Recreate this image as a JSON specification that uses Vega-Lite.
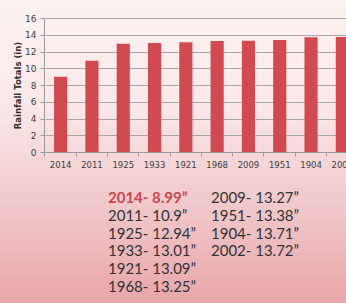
{
  "$schema": "https://vega.github.io/schema/vega-lite/v6.json",
  "width": 346,
  "height": 303,
  "autosize": {"type": "none"},
  "padding": 0,
  "background": "#f3d3d4",
  "config": {
    "view": {
      "stroke": null,
      "fill": {"gradient": "linear", "x1": 0, "y1": 0, "x2": 0, "y2": 1,
        "stops": [
          {"offset": 0, "color": "#fdf2f1"},
          {"offset": 0.35, "color": "#fbe8e8"},
          {"offset": 0.6, "color": "#f4d0d1"},
          {"offset": 1, "color": "#e8a6aa"}
        ]}
    },
    "font": "Lato"
  },
  "data": {
    "values": [
      {"year": "2014", "value": 8.99, "rank": 1},
      {"year": "2011", "value": 10.9, "rank": 2},
      {"year": "1925", "value": 12.94, "rank": 3},
      {"year": "1933", "value": 13.01, "rank": 4},
      {"year": "1921", "value": 13.09, "rank": 5},
      {"year": "1968", "value": 13.25, "rank": 6},
      {"year": "2009", "value": 13.27, "rank": 7},
      {"year": "1951", "value": 13.38, "rank": 8},
      {"year": "1904", "value": 13.71, "rank": 9},
      {"year": "2002", "value": 13.72, "rank": 10}
    ]
  },
  "transform": [
    {"calculate": "datum.rank <= 6 ? 'a' : 'b'", "as": "col"},
    {"calculate": "datum.rank <= 6 ? datum.rank : datum.rank - 6", "as": "line"},
    {"calculate": "datum.year + '- ' + datum.value + '\u201d'", "as": "label"}
  ],
  "layer": [
    {
      "mark": {"type": "bar", "color": "#d04a50"},
      "encoding": {
        "x": {
          "field": "year", "type": "nominal", "sort": null,
          "scale": {"range": [45, 358], "paddingInner": 0.58, "paddingOuter": 0.29},
          "axis": {
            "title": null, "orient": "bottom", "offset": -151,
            "labelAngle": 0, "labelFontSize": 8.5, "labelColor": "#404040",
            "labelFont": "DejaVu Sans", "labelPadding": 4,
            "domainColor": "#9a9a9a", "tickColor": "#9a9a9a", "tickSize": 4,
            "bandPosition": -0.7, "grid": false
          }
        },
        "y": {
          "field": "value", "type": "quantitative",
          "scale": {"domain": [0, 16], "range": [152, 18], "nice": false},
          "axis": {
            "title": "Rainfall Totals (in)", "orient": "left", "offset": -44,
            "values": [0, 2, 4, 6, 8, 10, 12, 14, 16],
            "labelFontSize": 9, "labelColor": "#404040", "labelFont": "DejaVu Sans",
            "labelPadding": 4,
            "titleFont": "DejaVu Sans", "titleFontSize": 8.5, "titleFontWeight": "bold",
            "titleColor": "#303030", "titlePadding": 2,
            "domainColor": "#9a9a9a", "tickColor": "#9a9a9a", "tickSize": 4,
            "grid": true, "gridColor": "#a8a8a8", "gridWidth": 1
          }
        }
      }
    },
    {
      "transform": [{"filter": "datum.rank == 1"}],
      "mark": {"type": "text", "align": "left", "baseline": "middle", "fontSize": 15, "fontWeight": "bold", "color": "#c9474d"},
      "encoding": {
        "x": {"field": "col", "type": "nominal", "scale": {"type": "point", "range": [108, 211], "padding": 0, "domain": ["a", "b"]}, "axis": null},
        "y": {"field": "line", "type": "quantitative", "scale": {"domain": [1, 6], "range": [198, 287]}, "axis": null},
        "text": {"field": "label"}
      }
    },
    {
      "transform": [{"filter": "datum.rank > 1"}],
      "mark": {"type": "text", "align": "left", "baseline": "middle", "fontSize": 15, "color": "#333333"},
      "encoding": {
        "x": {"field": "col", "type": "nominal", "scale": {"type": "point", "range": [108, 211], "padding": 0, "domain": ["a", "b"]}, "axis": null},
        "y": {"field": "line", "type": "quantitative", "scale": {"domain": [1, 6], "range": [198, 287]}, "axis": null},
        "text": {"field": "label"}
      }
    }
  ],
  "resolve": {"scale": {"x": "independent", "y": "independent"}, "axis": {"x": "independent", "y": "independent"}}
}
